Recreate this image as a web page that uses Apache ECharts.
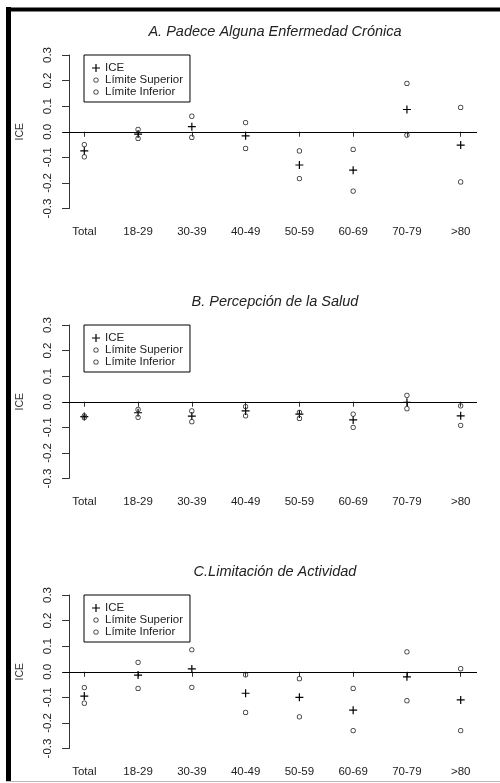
<!DOCTYPE html>
<html>
<head>
<meta charset="utf-8">
<script src="https://cdn.jsdelivr.net/npm/echarts@6/dist/echarts.min.js"></script>
<style>html,body{margin:0;padding:0;background:#fff;}#c{width:500px;height:783px;}</style>
</head>
<body>
<div id="c"></div>
<script>
const categories = ['Total','18-29','30-39','40-49','50-59','60-69','70-79','>80'];
const yTickLabels = ['-0.3','-0.2','-0.1','0.0','0.1','0.2','0.3'];
const seriesNames = ['ICE','Límite Superior','Límite Inferior'];
const titles = ['A. Padece Alguna Enfermedad Crónica','B. Percepción de la Salud','C.Limitación de Actividad'];

const iceA = [-0.075, -0.009, 0.020, -0.016, -0.130, -0.150, 0.087, -0.052];
const supA = [-0.050, 0.009, 0.061, 0.036, -0.075, -0.069, 0.189, 0.095];
const infA = [-0.098, -0.026, -0.022, -0.065, -0.183, -0.232, -0.013, -0.196];

const iceB = [-0.058, -0.043, -0.056, -0.036, -0.048, -0.071, -0.002, -0.055];
const supB = [-0.055, -0.030, -0.036, -0.019, -0.041, -0.048, 0.025, -0.016];
const infB = [-0.062, -0.061, -0.078, -0.055, -0.065, -0.100, -0.027, -0.092];

const iceC = [-0.095, -0.013, 0.011, -0.084, -0.100, -0.150, -0.020, -0.110];
const supC = [-0.062, 0.037, 0.086, -0.012, -0.027, -0.065, 0.078, 0.012];
const infC = [-0.123, -0.065, -0.061, -0.159, -0.176, -0.230, -0.113, -0.230];

const panels = [[iceA, supA, infA], [iceB, supB, infB], [iceC, supC, infC]];

const FONT = '"Liberation Sans", Arial, sans-serif';
const PLUS = 'path://M0,3.4 H8 V4.6 H0 Z M3.4,0 H4.6 V8 H3.4 Z';
const RING = 'path://M0,0 L0,0 M8,8 L8,8 M6.6,4 A2.6,2.6 0 1,0 1.4,4 A2.6,2.6 0 1,0 6.6,4 Z M5.85,4 A1.85,1.85 0 1,1 2.15,4 A1.85,1.85 0 1,1 5.85,4 Z';

const chart = echarts.init(document.getElementById('c'), null, {renderer: 'canvas'});

const option = {
  backgroundColor: '#fff',
  animation: false,
  textStyle: {fontFamily: FONT},
  title: [], grid: [], xAxis: [], yAxis: [], legend: [], series: [],
  graphic: [
    {type: 'rect', shape: {x: 6, y: 7, width: 5, height: 775}, style: {fill: '#000'}, silent: true},
    {type: 'rect', shape: {x: 6, y: 7.5, width: 494, height: 4}, style: {fill: '#000'}, silent: true},
    {type: 'rect', shape: {x: 6, y: 781, width: 494, height: 1}, style: {fill: '#bbb'}, silent: true}
  ]
};

panels.forEach((p, k) => {
  const o = k * 270;
  option.title.push({
    text: titles[k], left: 270, top: 19.5 + o, textAlign: 'center',
    textStyle: {fontFamily: FONT, fontSize: 14.5, fontStyle: 'italic', fontWeight: 'normal', color: '#222'}
  });
  option.grid.push({left: 84.3, right: 39.3, top: 55 + o, height: 153.5, containLabel: false});
  option.grid.push({left: 63, right: 23, top: 55 + o, height: 153.5, containLabel: false});
  const gi = k * 2;
  option.xAxis.push({
    type: 'category', gridIndex: gi, data: categories, boundaryGap: false, offset: 7.5,
    axisLine: {show: true, lineStyle: {color: '#333', width: 1}},
    axisTick: {show: true, length: 5, alignWithLabel: true, lineStyle: {color: '#333'}},
    axisLabel: {margin: 10, fontSize: 11.5, color: '#222', fontFamily: FONT, interval: 0},
    splitLine: {show: false}
  });
  option.xAxis.push({type: 'value', gridIndex: gi + 1, min: 0, max: 1, show: false});
  option.yAxis.push({
    type: 'value', gridIndex: gi, min: -0.3, max: 0.3, interval: 0.1, offset: 15.3,
    name: 'ICE', nameLocation: 'middle', nameGap: 43, nameRotate: 90,
    nameTextStyle: {fontSize: 10.5, color: '#333', fontFamily: FONT},
    axisLine: {show: true, lineStyle: {color: '#333', width: 1}},
    axisTick: {show: true, length: 7, lineStyle: {color: '#333'}},
    axisLabel: {rotate: 90, margin: 15, fontSize: 11.5, color: '#222', fontFamily: FONT,
      formatter: (v, i) => yTickLabels[i]},
    splitLine: {show: false}
  });
  option.yAxis.push({type: 'value', gridIndex: gi + 1, min: -0.3, max: 0.3, show: false});

  option.series.push({
    type: 'scatter', xAxisIndex: gi + 1, yAxisIndex: gi + 1, data: [], silent: true,
    markLine: {silent: true, symbol: ['none', 'none'], label: {show: false},
      lineStyle: {color: '#000', width: 1, type: 'solid'}, data: [{yAxis: 0}]}
  });
  const syms = [PLUS, RING, RING];
  const cols = ['#000', '#333', '#333'];
  p.forEach((arr, j) => {
    option.series.push({
      name: seriesNames[j], type: 'scatter', xAxisIndex: gi, yAxisIndex: gi,
      data: arr, symbol: syms[j], symbolSize: 8, silent: true,
      itemStyle: {color: cols[j], borderWidth: 0, opacity: 1},
      z: 3 + j
    });
  });
  option.legend.push({
    data: seriesNames.map(n => ({name: n})), orient: 'vertical', left: 84, top: 55 + o,
    padding: [7, 7, 4, 8], itemGap: 0, itemWidth: 8, itemHeight: 8,
    borderColor: '#000', borderWidth: 1, borderRadius: 0, backgroundColor: '#fff',
    selectedMode: false,
    textStyle: {fontSize: 11.5, lineHeight: 11, color: '#222', fontFamily: FONT}
  });
});

chart.setOption(option);
</script>
</body>
</html>
